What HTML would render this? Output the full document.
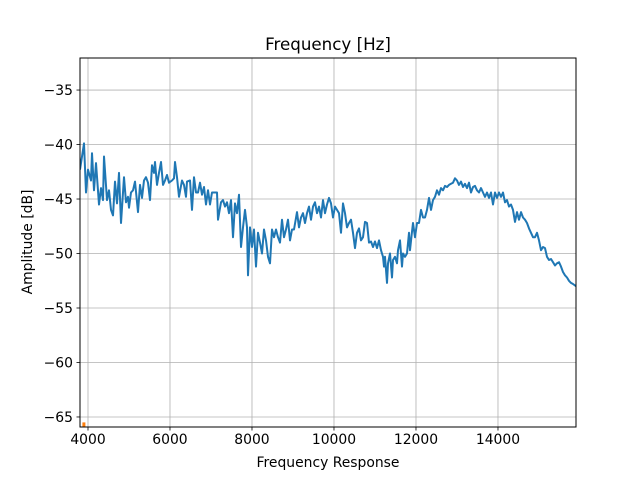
<!DOCTYPE html>
<html><head><meta charset="utf-8"><style>
body{margin:0;background:#fff;}
svg{display:block;font-family:"DejaVu Sans","Liberation Sans",sans-serif;}
</style></head><body>
<svg id="chart" width="640" height="480">
<rect width="640" height="480" fill="#fff"/>
<g id="grid"></g>
<g id="series"></g>
<rect x="80" y="58" width="496" height="369" fill="none" stroke="#000" stroke-width="1"/>
<g id="ticks"></g>
<text x="328" y="50" text-anchor="middle" font-size="16.7">Frequency [Hz]</text>
<text x="328" y="467" text-anchor="middle" font-size="13.9">Frequency Response</text>
<text transform="translate(32,242) rotate(-90)" text-anchor="middle" font-size="13.9">Amplitude [dB]</text>
</svg>
<script>
const xTicks=[4000,6000,8000,10000,12000,14000];
const yTicks=[-35,-40,-45,-50,-55,-60,-65];
const freqs=[3805,3903,3952,4000,4073,4098,4146,4195,4268,4317,4366,4390,4463,4512,4561,4610,4659,4707,4756,4805,4878,4927,4976,5000,5049,5098,5146,5220,5268,5317,5366,5415,5464,5512,5561,5610,5634,5683,5732,5781,5829,5878,5927,5976,6049,6098,6122,6171,6220,6293,6342,6390,6415,6488,6537,6586,6634,6683,6732,6781,6830,6878,6927,6976,7025,7073,7146,7171,7244,7293,7342,7390,7439,7488,7537,7586,7634,7683,7732,7781,7830,7878,7903,7952,8000,8049,8098,8147,8195,8244,8293,8342,8390,8439,8488,8537,8586,8634,8683,8732,8781,8830,8878,8927,8976,9025,9098,9146,9195,9244,9293,9342,9390,9439,9488,9537,9586,9634,9683,9732,9781,9830,9878,9927,9976,10025,10073,10122,10171,10220,10269,10317,10366,10415,10464,10512,10561,10610,10659,10708,10756,10805,10854,10903,10951,11000,11049,11098,11147,11195,11220,11244,11293,11317,11366,11415,11439,11488,11537,11561,11610,11659,11683,11732,11781,11830,11854,11903,11927,11976,12025,12073,12122,12171,12220,12269,12317,12366,12415,12464,12512,12561,12610,12659,12708,12756,12805,12854,12903,12951,13000,13049,13098,13147,13195,13244,13293,13342,13390,13439,13488,13537,13586,13634,13683,13732,13781,13830,13878,13927,13976,14025,14073,14122,14171,14220,14269,14317,14366,14415,14464,14512,14561,14610,14659,14708,14756,14805,14854,14903,14951,15000,15049,15098,15146,15195,15244,15293,15342,15390,15439,15488,15537,15586,15634,15683,15732,15781,15830,15903];
const amps=[-42.3,-39.9,-44.4,-42.3,-43.3,-40.8,-44.2,-41.7,-45.5,-44.0,-45.1,-41.1,-45.1,-44.2,-46.0,-46.5,-43.4,-45.4,-42.6,-47.2,-43.0,-45.3,-44.8,-45.8,-44.4,-44.2,-43.4,-46.2,-43.7,-44.9,-43.3,-43.0,-43.5,-45.1,-41.9,-42.6,-41.6,-43.7,-42.6,-41.6,-43.7,-43.3,-42.8,-43.5,-43.3,-43.1,-41.6,-43.0,-44.8,-43.3,-43.7,-44.8,-43.4,-43.3,-46.0,-43.0,-44.4,-44.4,-43.5,-44.6,-43.9,-45.5,-44.2,-45.5,-44.4,-44.4,-44.4,-46.9,-45.3,-45.1,-45.7,-45.3,-46.3,-45.1,-48.5,-45.4,-46.3,-44.6,-49.4,-47.6,-46.0,-47.6,-52.0,-47.6,-49.4,-47.8,-51.2,-48.1,-49.0,-50.0,-47.8,-48.8,-50.3,-50.9,-47.8,-48.5,-47.8,-48.5,-49.0,-46.9,-48.5,-47.8,-46.9,-48.8,-47.8,-47.8,-46.2,-47.6,-46.7,-46.3,-47.2,-46.3,-45.7,-46.9,-45.7,-45.3,-46.3,-45.7,-46.7,-45.1,-46.3,-45.5,-44.9,-45.4,-46.7,-45.7,-46.0,-46.3,-48.1,-45.4,-46.3,-47.6,-47.2,-46.9,-48.1,-49.5,-48.1,-47.7,-48.8,-48.5,-47.1,-47.2,-49.0,-48.9,-49.4,-48.9,-49.5,-48.8,-49.7,-50.3,-51.2,-50.3,-52.7,-50.9,-50.0,-52.2,-50.6,-50.3,-50.9,-49.7,-48.8,-51.2,-50.0,-50.3,-50.0,-48.1,-49.7,-48.0,-47.2,-48.5,-47.2,-47.2,-46.0,-46.7,-46.7,-46.0,-44.9,-46.0,-45.1,-44.8,-44.2,-44.6,-44.0,-44.2,-43.8,-43.9,-43.7,-43.6,-43.5,-43.1,-43.3,-43.7,-43.4,-43.9,-43.6,-44.0,-43.5,-44.4,-43.9,-43.8,-44.2,-44.4,-44.0,-44.4,-44.8,-44.4,-44.9,-44.4,-45.5,-44.4,-44.9,-44.4,-44.8,-44.4,-45.3,-45.1,-45.7,-45.5,-46.0,-47.1,-46.2,-46.9,-46.2,-46.7,-46.9,-47.2,-47.7,-48.1,-48.5,-48.5,-48.1,-48.8,-49.7,-49.4,-49.5,-50.3,-50.6,-50.5,-50.8,-51.1,-50.9,-50.8,-51.2,-51.7,-52.0,-52.2,-52.5,-52.7,-52.8,-53.0];
const markerFreqs=[3900,3900];
const markerAmps=[-65.5,-66];
const X0=3805,X1=15903,Y0=-65.92,Y1=-32.06;
const L=80,R=576,T=58,B=427;
const sx=v=>L+(v-X0)/(X1-X0)*(R-L);
const sy=v=>B-(v-Y0)/(Y1-Y0)*(B-T);
const NS="http://www.w3.org/2000/svg";
const grid=document.getElementById('grid'),ticks=document.getElementById('ticks'),series=document.getElementById('series');
function mk(tag,attrs,parent){const e=document.createElementNS(NS,tag);for(const k in attrs)e.setAttribute(k,attrs[k]);parent.appendChild(e);return e;}
xTicks.forEach(t=>{const x=sx(t);
 const g=mk('line',{x1:x,x2:x,y1:T,y2:B,stroke:'#b0b0b0','stroke-width':0.8},grid);
 
 
 const tk=mk('line',{x1:x,x2:x,y1:B,y2:B+3.5,stroke:'#000','stroke-width':0.8},ticks);
 
 
 const lb=mk('text',{x:x,y:B+17,'text-anchor':'middle','font-size':13.9},ticks);
 lb.textContent=t;
 
 
});
yTicks.forEach(t=>{const y=sy(t);
 const g=mk('line',{x1:L,x2:R,y1:y,y2:y,stroke:'#b0b0b0','stroke-width':0.8},grid);
 
 
 const tk=mk('line',{x1:L-3.5,x2:L,y1:y,y2:y,stroke:'#000','stroke-width':0.8},ticks);
 
 
 const lb=mk('text',{x:L-7,y:y+5,'text-anchor':'end','font-size':13.9},ticks);
 lb.textContent='\u2212'+Math.abs(t);
 
 
});
const clip=mk('clipPath',{id:'cp'},document.getElementById('chart'));
mk('rect',{x:L,y:T,width:R-L,height:B-T},clip);
const line=mk('polyline',{points:freqs.map((f,i)=>sx(f).toFixed(1)+','+sy(amps[i]).toFixed(1)).join(' '),fill:'none',stroke:'#1f77b4','stroke-width':2,'stroke-linejoin':'round','clip-path':'url(#cp)'},series);


const mline=mk('polyline',{points:markerFreqs.map((f,i)=>sx(f).toFixed(1)+','+sy(markerAmps[i]).toFixed(1)).join(' '),fill:'none',stroke:'#ff7f0e','stroke-width':3,'clip-path':'url(#cp)'},series);


</script>
</body></html>
